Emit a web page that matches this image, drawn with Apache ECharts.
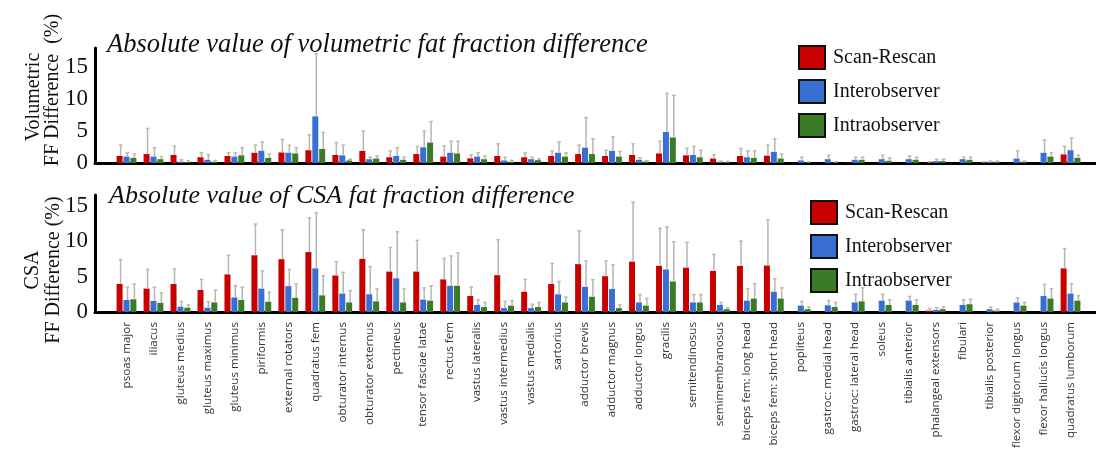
<!DOCTYPE html>
<html>
<head>
<meta charset="utf-8">
<script src="https://cdn.jsdelivr.net/npm/echarts@6/dist/echarts.min.js"></script>
<style>
html,body{margin:0;padding:0;background:#fff;}
#chart{width:1096px;height:452px;}
</style>
</head>
<body>
<div id="chart"></div>
<script>
const categories = ["psoas major","iliacus","gluteus medius","gluteus maximus","gluteus minimus","piriformis","external rotators","quadratus fem","obturator internus","obturator externus","pectineus","tensor fasciae latae","rectus fem","vastus lateralis","vastus intermedius","vastus medialis","sartorius","adductor brevis","adductor magnus","adductor longus","gracilis","semitendinosus","semimembranosus","biceps fem: long head","biceps fem: short head","popliteus","gastroc: medial head","gastroc: lateral head","soleus","tibialis anterior","phalangeal extensors","fibulari","tibialis posterior","flexor digitorum longus","flexor hallucis longus","quadratus lumborum"];
const seriesNames = ["Scan-Rescan","Interobserver","Intraobserver"];
const yTicks = [0,5,10,15];

// Volumetric FF difference (%) — mean and SD
const volScan     = [1.1,1.4,1.25,0.9,1.1,1.6,1.65,2.0,1.25,1.9,0.9,1.4,1.0,0.73,1.1,0.9,1.1,1.4,1.1,1.25,1.5,1.2,0.7,1.1,1.15,0,0,0.05,0,0,0.1,0,0.1,0,0,1.35];
const volScanSD   = [1.7,4.0,1.4,0.7,0.5,1.2,2.05,2.4,1.95,3.1,1.0,1.2,1.65,0.57,1.9,0.7,0.8,1.4,0.9,1.75,1.9,1.1,0.6,1.2,1.65,0,0,0,0,0,0.1,0,0.1,0,0,1.25];
const volInter    = [1.0,1.0,0.2,0.5,1.0,1.9,1.6,7.3,1.2,0.6,1.1,2.45,1.6,1.0,0.4,0.6,1.6,2.4,1.9,0.5,4.85,1.25,0.2,0.9,1.75,0.4,0.6,0.5,0.6,0.6,0.3,0.6,0.2,0.7,1.6,2.0];
const volInterSD  = [0.6,1.4,0.3,0.8,0.6,1.4,1.2,9.8,1.6,0.3,1.3,2.55,1.8,0.6,0.5,0.3,1.7,4.7,2.2,0.3,6.05,1.35,0.1,1.0,2.05,0.5,0.6,0.4,0.6,0.5,0.3,0.3,0.1,1.2,2.0,1.9];
const volIntra    = [0.8,0.6,0.15,0.2,1.2,0.8,1.5,2.2,0.4,0.7,0.5,3.2,1.5,0.6,0.2,0.45,1.0,1.4,1.0,0.25,4.0,0.9,0.15,0.8,0.7,0.1,0.1,0.5,0.35,0.5,0.3,0.5,0.2,0.2,1.0,0.8];
const volIntraSD  = [0.6,0.4,0.2,0.2,1.2,0.6,0.9,2.6,0.2,0.4,0.4,3.3,1.9,0.5,0.2,0.2,0.6,2.4,0.8,0.1,6.6,1.1,0.1,1.1,0.7,0.1,0.1,0.4,0.45,0.4,0.3,0.4,0.1,0.1,0.6,0.4];

// CSA FF difference (%) — mean and SD
const csaScan     = [3.95,3.3,3.95,3.1,5.3,8.0,7.45,8.45,5.15,7.5,5.7,5.7,4.6,2.25,5.2,2.85,3.95,6.75,5.05,7.1,6.5,6.25,5.8,6.5,6.55,0,0,0,0,0,0.2,0,0,0,0,6.15];
const csaScanSD   = [3.45,2.7,2.1,1.5,2.7,4.4,4.15,4.85,1.95,4.1,3.4,4.4,2.95,1.25,5.0,1.75,2.9,4.7,2.15,8.4,5.3,3.55,2.3,3.5,6.5,0,0,0,0,0,0.3,0,0,0,0,2.8];
const csaInter    = [1.7,1.55,0.75,0.6,2.05,3.3,3.65,6.15,2.6,2.5,4.75,1.75,3.7,1.0,0.55,0.55,2.5,3.55,3.25,1.35,6.0,1.35,1.0,1.6,2.85,0.9,0.95,1.35,1.6,1.6,0.3,1.0,0.4,1.35,2.25,2.6];
const csaInterSD  = [1.8,1.95,0.75,0.85,1.65,2.5,2.35,7.85,3.0,3.9,6.55,1.65,4.2,0.7,0.95,0.55,1.8,3.65,3.4,1.1,6.0,1.1,0.35,1.7,1.85,0.6,0.65,1.15,0.9,0.6,0.3,0.7,0.3,0.65,1.65,1.4];
const csaIntra    = [1.8,1.3,0.6,1.35,1.7,1.45,2.0,2.35,1.35,1.5,1.35,1.6,3.7,0.7,0.9,0.7,1.35,2.15,0.55,0.9,4.3,1.35,0.4,1.9,1.9,0.4,0.7,1.5,1.0,1.0,0.4,1.1,0.2,0.9,1.9,1.6];
const csaIntraSD  = [2.15,1.4,0.4,1.75,1.8,1.35,1.95,2.75,1.65,1.75,1.9,2.1,4.65,0.65,0.7,0.65,0.75,2.4,0.45,1.0,5.6,1.1,0.2,2.1,1.5,0.3,0.65,1.9,0.7,0.7,0.3,0.7,0.2,0.45,1.4,0.7];

const colors = ['#c80000','#3a6fd2','#3b7a26'];
const SERIF = '"Liberation Serif","DejaVu Serif",serif';
const BARW = 6, GAP = 0.9;
const offsets = [-(BARW+GAP), 0, BARW+GAP];

function errRender(offset){
  return function(params, api){
    const x = api.value(0), v = api.value(1), e = api.value(2);
    if (!(e > 0)) return null;
    const p0 = api.coord([x, v]);
    const p1 = api.coord([x, v + e]);
    const cx = p0[0] + offset + 1;
    return {type:'group', children:[
      {type:'line', shape:{x1:cx, y1:p0[1], x2:cx, y2:p1[1]}, style:{stroke:'#b5b5b5', lineWidth:1.5}},
      {type:'line', shape:{x1:cx-1.8, y1:p1[1], x2:cx+1.8, y2:p1[1]}, style:{stroke:'#c2b9a0', lineWidth:1.5}}
    ]};
  };
}

const panels = [
  {means:[volScan,volInter,volIntra], sds:[volScanSD,volInterSD,volIntraSD]},
  {means:[csaScan,csaInter,csaIntra], sds:[csaScanSD,csaInterSD,csaIntraSD]}
];

const series = [];
panels.forEach((pn, pi) => {
  const axisIdx = pi*2 + 1;
  pn.means.forEach((m, si) => {
    series.push({
      name: seriesNames[si], type:'bar', xAxisIndex:axisIdx, yAxisIndex:axisIdx,
      data: m, barWidth: BARW, barGap: (GAP/BARW*100)+'%',
      itemStyle:{color:colors[si]}, silent:true
    });
  });
  pn.means.forEach((m, si) => {
    series.push({
      name:'err'+pi+'_'+si, type:'custom', xAxisIndex:axisIdx, yAxisIndex:axisIdx,
      data: m.map((v,i)=>[i, v, pn.sds[si][i]]),
      renderItem: errRender(offsets[si]), silent:true, z:3
    });
  });
});

const frameX = (gi) => ({gridIndex:gi, type:'value', min:0, max:1,
  axisLine:{show:true, lineStyle:{color:'#000', width:3}}, axisTick:{show:false}, axisLabel:{show:false}, splitLine:{show:false}});
const frameY = (gi, max) => ({gridIndex:gi, type:'value', min:0, max:max, interval:5,
  axisLine:{show:true, lineStyle:{color:'#000', width:3}}, axisTick:{show:false}, splitLine:{show:false},
  axisLabel:{fontFamily:SERIF, fontSize:23, color:'#111', margin:7,
    formatter:(v)=> yTicks.indexOf(v) >= 0 ? String(v) : ''}});
const barX = (gi, showLabels) => ({gridIndex:gi, type:'category', data:categories,
  axisLine:{show:false}, axisTick:{show:false}, splitLine:{show:false},
  axisLabel:{show:showLabels, interval:0, rotate:90, fontFamily:'"Open Sans","DejaVu Sans",sans-serif', fontSize:11.6, color:'#333', margin:10}});
const barY = (gi, max) => ({gridIndex:gi, type:'value', min:0, max:max, show:false, splitLine:{show:false}});

const legendBase = (left, top) => ({
  left:left, top:top, orient:'vertical', icon:'rect', itemWidth:26, itemHeight:23, itemGap:9,
  itemStyle:{borderColor:'#111', borderWidth:2},
  textStyle:{fontFamily:SERIF, fontSize:20, color:'#111', padding:[0,0,0,3]},
  data: seriesNames, selectedMode:false
});

const option = {
  animation:false,
  backgroundColor:'#fff',
  title:[
    {text:'Absolute value of volumetric fat fraction difference', left:102, top:27,
      textStyle:{fontFamily:SERIF, fontStyle:'italic', fontWeight:'normal', fontSize:26.5, color:'#111'}},
    {text:'Absolute value of CSA fat fraction difference', left:104, top:178,
      textStyle:{fontFamily:SERIF, fontStyle:'italic', fontWeight:'normal', fontSize:26, color:'#111'}}
  ],
  legend:[legendBase(793, 40), legendBase(805, 195)],
  grid:[
    {left:95, right:0, top:48, height:115},
    {left:113, right:12, top:48, height:115},
    {left:95, right:0, top:195, height:117},
    {left:113, right:12, top:195, height:117}
  ],
  xAxis:[frameX(0), barX(1,false), frameX(2), barX(3,true)],
  yAxis:[frameY(0,18), barY(1,18), frameY(2,16.5), barY(3,16.5)],
  series: series,
  graphic:[
    {type:'text', x:34, y:97, rotation:Math.PI/2, style:{text:'Volumetric', font:'20px '+SERIF, fill:'#111', textAlign:'center', textVerticalAlign:'middle'}},
    {type:'text', x:53, y:90, rotation:Math.PI/2, style:{text:'FF Difference  (%)', font:'20px '+SERIF, fill:'#111', textAlign:'center', textVerticalAlign:'middle'}},
    {type:'text', x:33, y:270, rotation:Math.PI/2, style:{text:'CSA', font:'20px '+SERIF, fill:'#111', textAlign:'center', textVerticalAlign:'middle'}},
    {type:'text', x:54, y:270, rotation:Math.PI/2, style:{text:'FF Difference (%)', font:'20px '+SERIF, fill:'#111', textAlign:'center', textVerticalAlign:'middle'}}
  ]
};

const chart = echarts.init(document.getElementById('chart'), null, {renderer:'canvas'});
chart.setOption(option);
</script>
</body>
</html>
